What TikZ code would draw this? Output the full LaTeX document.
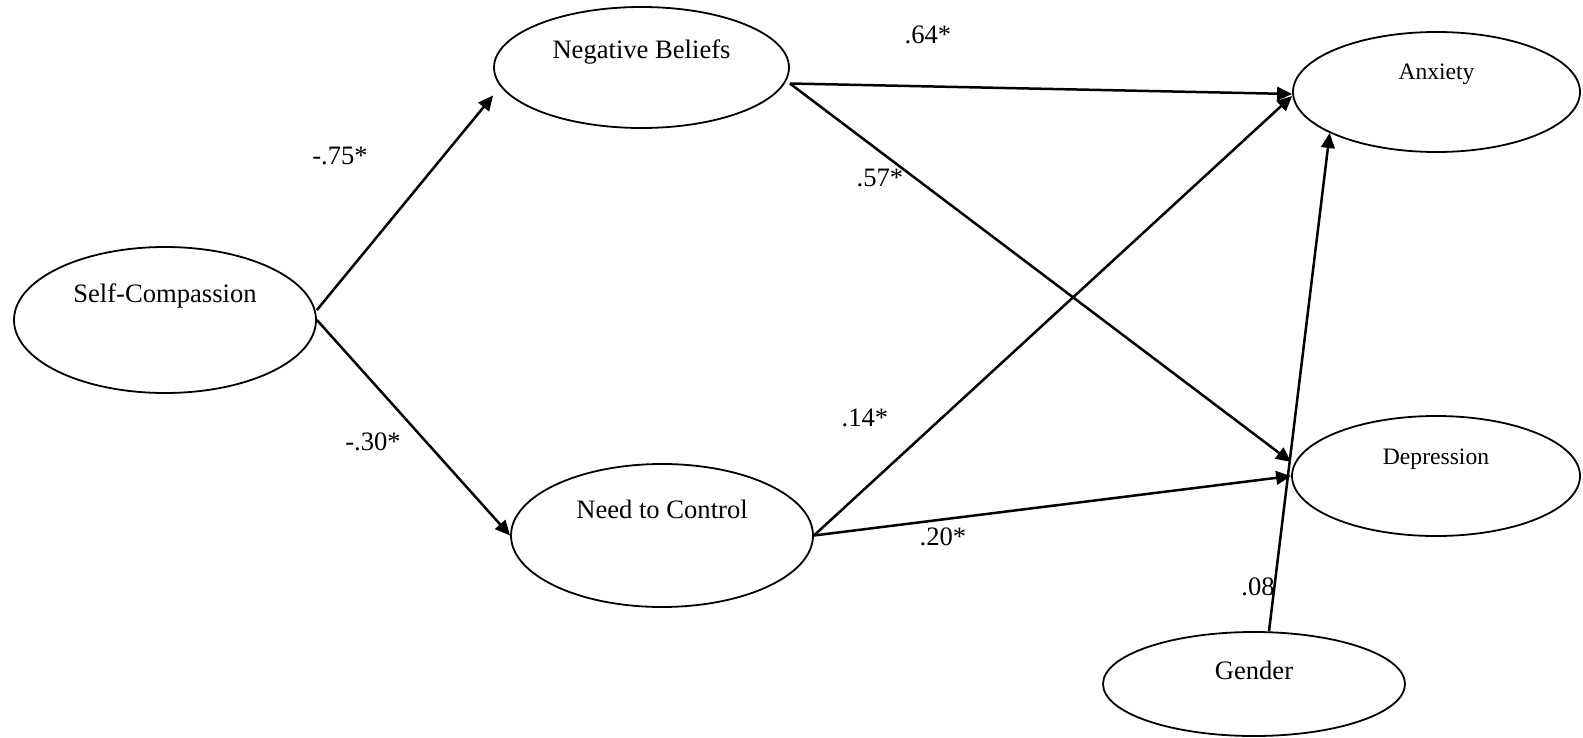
\documentclass[tikz,border=0pt]{standalone}
\usepackage{fontspec}
\setmainfont{Liberation Serif}
\usepackage{tikz}
\usetikzlibrary{shapes.geometric,arrows.meta}
\tikzstyle{latent}=[ellipse,draw,line width=0.9pt,inner sep=0pt,text height=10pt]
\tikzstyle{outcome}=[latent,font=\fontsize{11.8}{14}\selectfont]
\tikzstyle{coef}=[inner sep=1pt]

\begin{document}
\begin{tikzpicture}[x=0.5pt,y=-0.5pt,font=\fontsize{13.3}{16}\selectfont,line width=1.25pt,>={Triangle[length=7.5pt,width=6.8pt]}]
			\useasboundingbox (0,0) rectangle (1583,738);
			\node[latent,minimum width=151pt,minimum height=73pt,text depth=28pt]     (self) at (165,320)    {Self-Compassion};
			\node[latent,minimum width=147.5pt,minimum height=60.5pt,text depth=19pt] (neg)  at (641.5,67.5) {Negative Beliefs};
			\node[latent,minimum width=151pt,minimum height=71.5pt,text depth=27.5pt] (need) at (662,535.5)  {Need to Control};
			\node[outcome,minimum width=143.5pt,minimum height=60pt,text depth=22pt]  (anx)  at (1436.5,92)  {Anxiety};
			\node[outcome,minimum width=144pt,minimum height=60pt,text depth=22pt]    (dep)  at (1436,476)   {Depression};
			\node[latent,minimum width=151pt,minimum height=52pt,text depth=15pt]     (gen)  at (1254,684)   {Gender};
			\path[->]
			([yshift=5pt]self.east)  edge ([yshift=-14pt]neg.west)
			(self.east)              edge (need.west)
			([yshift=-8pt]neg.east)  edge ([yshift=-1pt]anx.west)
			([yshift=-8pt]neg.east)  edge ([yshift=7pt]dep.west)
			(need.east)              edge ([yshift=-2pt]anx.west)
			(need.east)              edge (dep.west)
			([xshift=7.5pt]gen.north) edge (anx.201.5);
			\node[coef] (c_sn) at (340,156)  {-.75*};
			\node[coef] (c_sc) at (373,442)  {-.30*};
			\node[coef] (c_na) at (928,35)   {.64*};
			\node[coef] (c_nd) at (880,178)  {.57*};
			\node[coef] (c_ca) at (865,418)  {.14*};
			\node[coef] (c_cd) at (943,537)  {.20*};
			\node[coef] (c_ga) at (1258,587) {.08};
		\end{tikzpicture}
\end{document}
